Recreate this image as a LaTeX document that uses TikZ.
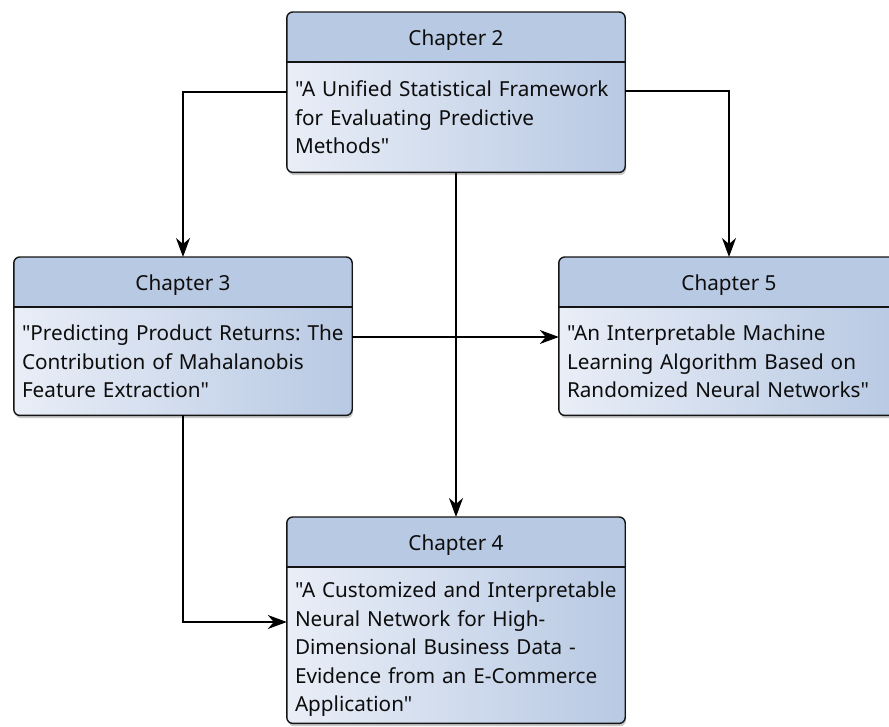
\documentclass[tikz,border=0pt]{standalone}
\usepackage{fontspec}
\setmainfont{Noto Sans}[Ligatures=TeXOff]
\usetikzlibrary{arrows.meta,shadows,calc}
\definecolor{headc}{RGB}{184,201,227}
\definecolor{lightc}{RGB}{233,238,247}
\definecolor{darkc}{RGB}{184,201,227}
\definecolor{linec}{RGB}{20,20,20}
\tikzset{
  box/.style={rectangle, rounded corners=6pt, inner sep=0pt, anchor=north,
    left color=lightc, right color=darkc,
    drop shadow={shadow xshift=1pt, shadow yshift=-3pt, opacity=0.35, fill=black!60}},
  outline/.style={draw=linec, line width=1.4pt, rounded corners=6pt},
  divider/.style={draw=linec, line width=1.4pt},
  titletext/.style={font=\fontsize{20.7}{28.5}\selectfont\frenchspacing, text=black!95, inner sep=0pt},
  bodytext/.style={font=\fontsize{20.7}{28.5}\selectfont\frenchspacing, text=black!95, align=left, inner sep=0pt},
  arr/.style={draw=black, line width=1.4pt, -{Stealth[length=19pt,width=14pt,inset=6pt]}},
}
\newcommand{\chbox}[8]{%
  % #1 name, #2 center x, #3 top y, #4 width, #5 height, #6 title, #7 body, #8 body shift
  \node[box, minimum width=#4pt, minimum height=#5pt] (#1) at (#2,#3) {};
  \begin{scope}
    \clip[rounded corners=6pt] (#1.south west) rectangle (#1.north east);
    \fill[headc] (#1.north west) rectangle ([yshift=-50pt]#1.north east);
  \end{scope}
  \draw[divider] ([yshift=-50pt]#1.north west) -- ([yshift=-50pt]#1.north east);
  \draw[outline] (#1.south west) rectangle (#1.north east);
  \node[titletext] (#1t) at ([yshift=-28pt]#1.north) {#6};
  \node[bodytext, text width=#4pt-16pt, yshift=-#8pt] (#1b) at ($(#1.south)!0.5!([yshift=-50pt]#1.north)$) {#7};
}
\begin{document}
\begin{tikzpicture}[x=1pt,y=-1pt]
\useasboundingbox[fill=white] (0,0) rectangle (889,727);
\chbox{c2}{456}{12}{338}{160}{Chapter 2}{"A Unified Statistical Framework\\for Evaluating Predictive\\Methods"}{0}
\chbox{c3}{183}{257}{338}{158}{Chapter 3}{"Predicting Product Returns: The\\Contribution of Mahalanobis\\Feature Extraction"}{0.5}
\chbox{c5}{729}{257}{340}{158}{Chapter 5}{"An Interpretable Machine\\Learning Algorithm Based on\\Randomized Neural Networks"}{0.5}
\chbox{c4}{456}{517}{338}{206}{Chapter 4}{"A Customized and Interpretable\\Neural Network for High-\\Dimensional Business Data -\\Evidence from an E-Commerce\\Application"}{4}
\draw[arr] ([yshift=-80pt]c2.north west) -| (c3.north);
\draw[arr] ([yshift=-79pt]c2.north east) -| (c5.north);
\draw[arr] (c2.south) -- (c4.north);
\draw[arr] ([yshift=-80pt]c3.north east) -- ([yshift=-80pt]c5.north west);
\draw[arr] (c3.south) |- ([yshift=-105pt]c4.north west);
\end{tikzpicture}
\end{document}
